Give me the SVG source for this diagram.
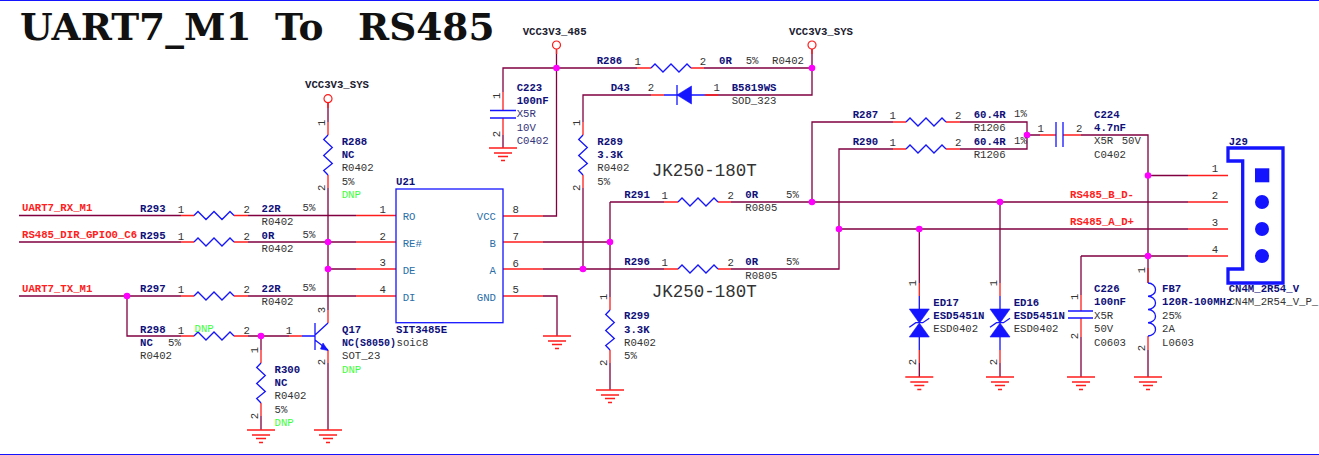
<svg xmlns="http://www.w3.org/2000/svg" xmlns:xlink="http://www.w3.org/1999/xlink" width="1319" height="455" viewBox="0 0 1319 455">
<style>
text{font-family:"Liberation Mono","DejaVu Sans Mono",monospace;font-size:10.67px}
.t{font-family:"DejaVu Serif","Liberation Serif",serif;font-size:37.5px;font-weight:bold;fill:#111111}
.w{fill:none;stroke:#800040;stroke-width:1.3}
.r{fill:none;stroke:#ff1c1c;stroke-width:1.3}
.b{fill:none;stroke:#1414ff;stroke-width:1.3}
.bf{fill:#1414ff;stroke:#1414ff;stroke-width:.6}
.d{fill:#ff00ff}
.n{font-weight:bold;fill:#10107a}
.f{fill:#333333}
.p{fill:#333333}
.g{fill:#40ff40}
.l{font-weight:bold;fill:#ff2020}
.v{font-weight:bold;fill:#202030}
.i{fill:#2a6ea8}
.c{fill:#33337a}
.m{text-anchor:middle}
.j{font-size:17.5px;fill:#333333}
.gn{fill:none;stroke:#ff1c1c;stroke-width:1.3}
</style>
<defs>
<path id="rh" class="b" d="M0 0L4-4L12 4L20-4L28 4L36-4L40 0"/>
<path id="rv" class="b" d="M0 0L-4.300 4.500L4.300 12.500L-4.300 20.500L4.300 28.500L-4.300 35.500L0 40"/>
<g id="gnd"><path class="gn" d="M-14 0H14M-9 5H9M-5 8.500H5M-2 12.500H2"/></g>
<g id="tvs"><path class="b" d="M0 0V13M0 41V54"/><path class="bf" d="M-10 13H10L0 27ZM-10 41H10L0 27Z"/><path class="b" d="M-10 31.300L-3.500 26.700H3.500L10 22.300"/></g>
<g id="vcc"><circle cx="0" cy="0" r="4" fill="none" stroke="#ff1c1c" stroke-width="1.200"/></g>
</defs>
<rect width="1319" height="455" fill="#ffffff"/>
<path d="M0 .5H1319M0 454.500H1319" stroke="#1414ff" stroke-width="1.200" fill="none"/>
<g id="title"><text class="t" x="20" y="39.500">UART7_M1 <tspan x="275">To</tspan> <tspan x="358">RS485</tspan></text></g>

<g id="connectors">
<path class="w" d="M19 215.500H181M248 215.500H356M19 242H181M248 242H356M328 269H356M19 296H181M248 296H356"/>
<path class="w" d="M127 296V336H181M248 336H289M261 336V350M261 416V430"/>
<path class="w" d="M328 103V122M328 188V310M328 363V430"/>
<path class="w" d="M556.500 49V216H543M556.500 68H503V92M503 135V148M556.500 68H637M704 68H812M812 49V95H705M651 95H583V122M583 188V269"/>
<path class="w" d="M543 242H610M543 269H664M731 269H839V149H893M610 202V297M610 363V390M610 202H664M731 202H1188M812 202V122H893M960 122H1027V149H960M1027 135H1040M1081 135H1148V283"/>
<path class="w" d="M839 229H1188M919.300 229V283M919.300 363V377M1000 202V283M1000 363V377"/>
<path class="w" d="M1148 175.500H1188M1081 256H1188M1081 256V295M1081 337V377M1148 350V377M543 296H557V336"/>
<path class="r" d="M181 215.500H194M234 215.500H248M356 215.500H396M181 242H194M234 242H248M356 242H396M356 269H396M181 296H194M234 296H248M356 296H396"/>
<path class="r" d="M181 336H194M234 336H248M289 336H302M261 350V363M261 403V416M328 103V108M328 122V135M328 175V188M328 310V323M328 350V363"/>
<path class="r" d="M556.500 49V54M503 92V110.500M503 118V135M503 216H543M503 242H543M503 269H543M503 296H543M637 68H651M691 68H704M812 49V54M705 95H718M651 95H664M583 122V135M583 175V188"/>
<path class="r" d="M664 202H678M718 202H731M664 269H678M718 269H731M610 297V310M610 350V363M893 122H906M946 122H960M893 149H906M946 149H960M1040 135H1056M1063 135H1081"/>
<path class="r" d="M1188 175.500H1228M1188 202H1228M1188 229H1228M1188 256H1228M919.300 283V296M919.300 350V363M1000 283V296M1000 350V363M1081 295V311M1081 318V337M1148 268V283M1148 336V350"/>
<g class="d"><circle cx="127" cy="296" r="3.300"/><circle cx="261" cy="336" r="3.300"/><circle cx="328" cy="242" r="3.300"/><circle cx="328" cy="269" r="3.300"/><circle cx="556.500" cy="68" r="3.300"/><circle cx="812" cy="68" r="3.300"/><circle cx="583" cy="269" r="3.300"/><circle cx="610" cy="242" r="3.300"/><circle cx="812" cy="202" r="3.300"/><circle cx="839" cy="229" r="3.300"/><circle cx="919.300" cy="229" r="3.300"/><circle cx="1000" cy="202" r="3.300"/><circle cx="1027" cy="135" r="3.300"/><circle cx="1148" cy="175.500" r="3.300"/><circle cx="1148" cy="256" r="3.300"/></g>
</g>

<g id="net-labels">
<text class="l" x="22" y="211">UART7_RX_M1</text>
<text class="l" x="22" y="238">RS485_DIR_GPIO0_C6</text>
<text class="l" x="22" y="292">UART7_TX_M1</text>
<text class="l" x="1070" y="198">RS485_B_D-</text>
<text class="l" x="1070" y="225">RS485_A_D+</text>
<text class="j" x="651.700" y="176">JK250-180T</text>
<text class="j" x="651.700" y="296.700">JK250-180T</text>
</g>

<g id="VCC1"><use xlink:href="#vcc" href="#vcc" x="328" y="98.700"/><text class="v" x="305" y="88.300">VCC3V3_SYS</text></g>
<g id="VCC2"><use xlink:href="#vcc" href="#vcc" x="556.500" y="45"/><text class="v" x="522.700" y="35">VCC3V3_485</text></g>
<g id="VCC3"><use xlink:href="#vcc" href="#vcc" x="812" y="45"/><text class="v" x="789" y="35">VCC3V3_SYS</text></g>

<g id="grounds">
<use href="#gnd" xlink:href="#gnd" x="261" y="430"/><use href="#gnd" xlink:href="#gnd" x="328" y="430"/><use href="#gnd" xlink:href="#gnd" x="503" y="148"/><use href="#gnd" xlink:href="#gnd" x="557" y="336"/><use href="#gnd" xlink:href="#gnd" x="610" y="390"/><use href="#gnd" xlink:href="#gnd" x="919.300" y="377"/><use href="#gnd" xlink:href="#gnd" x="1000" y="377"/><use href="#gnd" xlink:href="#gnd" x="1081" y="377"/><use href="#gnd" xlink:href="#gnd" x="1148" y="377"/>
</g>

<g id="R293"><use href="#rh" xlink:href="#rh" x="194" y="215.500"/><text class="n" x="140" y="212">R293</text><text class="p m" x="181" y="213">1</text><text class="p m" x="246.700" y="213">2</text><text class="n" x="261.500" y="212">22R</text><text class="f" x="261.500" y="225">R0402</text><text class="p" x="302.500" y="211">5%</text></g>
<g id="R295"><use href="#rh" xlink:href="#rh" x="194" y="242"/><text class="n" x="140" y="238.700">R295</text><text class="p m" x="181" y="239.500">1</text><text class="p m" x="246.700" y="239.500">2</text><text class="n" x="261.500" y="238.700">0R</text><text class="f" x="261.500" y="252">R0402</text><text class="p" x="302.500" y="237.700">5%</text></g>
<g id="R297"><use href="#rh" xlink:href="#rh" x="194" y="296"/><text class="n" x="140" y="292">R297</text><text class="p m" x="181" y="293">1</text><text class="p m" x="246.700" y="293">2</text><text class="n" x="261.500" y="292">22R</text><text class="f" x="261.500" y="305">R0402</text><text class="p" x="302.500" y="291">5%</text></g>
<g id="R298"><use href="#rh" xlink:href="#rh" x="194" y="336"/><text class="n" x="140" y="333">R298</text><text class="p m" x="181" y="333.500">1</text><text class="g" x="194.500" y="332">DNP</text><text class="p m" x="246.700" y="333.500">2</text><text class="n" x="140" y="346">NC</text><text class="p" x="168" y="346">5%</text><text class="f" x="140" y="359">R0402</text></g>
<g id="R300"><use href="#rv" xlink:href="#rv" x="261" y="363"/><text class="p m" transform="translate(258 350) rotate(-90)">1</text><text class="p m" transform="translate(258 416) rotate(-90)">2</text><text class="n" x="274.500" y="373">R300</text><text class="n" x="274.500" y="386">NC</text><text class="f" x="274.500" y="399">R0402</text><text class="p" x="274.500" y="412.700">5%</text><text class="g" x="274.500" y="426">DNP</text></g>
<g id="Q17"><path class="b" d="M302 336H315M315 323V350M315 335L328 323M315 340L328 350"/><path class="bf" d="M328 350.500L320.500 349L323 343Z"/><text class="p m" x="289" y="333.500">1</text><text class="p m" transform="translate(325 310) rotate(-90)">3</text><text class="p m" transform="translate(325 362) rotate(-90)">2</text><text class="n" x="342" y="333">Q17</text><text class="n" x="342" y="346" textLength="54" lengthAdjust="spacingAndGlyphs">NC(S8050)</text><text class="f" x="342" y="359">SOT_23</text><text class="g" x="342" y="372.700">DNP</text></g>
<g id="R288"><use href="#rv" xlink:href="#rv" x="328" y="135"/><text class="p m" transform="translate(325 122.700) rotate(-90)">1</text><text class="p m" transform="translate(325 187.700) rotate(-90)">2</text><text class="n" x="341.700" y="145">R288</text><text class="n" x="341.700" y="158">NC</text><text class="f" x="341.700" y="171">R0402</text><text class="p" x="341.700" y="185">5%</text><text class="g" x="341.700" y="198">DNP</text></g>
<g id="U21"><rect x="396" y="189" width="107" height="133.700" fill="none" stroke="#1414ff" stroke-width="1.300"/><text class="n" x="396" y="185">U21</text><text class="n" x="396" y="333">SIT3485E</text><text class="f" x="396.500" y="346">soic8</text>
<text class="i" x="402.700" y="220">RO</text><text class="i" x="402.700" y="246.700">RE#</text><text class="i" x="402.700" y="273.700">DE</text><text class="i" x="402.700" y="301">DI</text>
<g text-anchor="end"><text class="i" x="496" y="220">VCC</text><text class="i" x="496" y="247">B</text><text class="i" x="496" y="274">A</text><text class="i" x="496" y="301">GND</text></g>
<text class="p m" x="382.700" y="213">1</text><text class="p m" x="382.700" y="240">2</text><text class="p m" x="382.700" y="266.300">3</text><text class="p m" x="382.700" y="293">4</text><text class="p m" x="515.700" y="213">8</text><text class="p m" x="515.700" y="240">7</text><text class="p m" x="515.700" y="267">6</text><text class="p m" x="515.700" y="293">5</text></g>
<g id="C223"><path class="b" d="M490 110.500H516M490 118H516"/><text class="p m" transform="translate(500 95.700) rotate(-90)">1</text><text class="p m" transform="translate(500 134) rotate(-90)">2</text><text class="n" x="516.700" y="91">C223</text><text class="n" x="516.700" y="104">100nF</text><text class="c" x="516.700" y="117">X5R</text><text class="c" x="516.700" y="131">10V</text><text class="c" x="516.700" y="144">C0402</text></g>
<g id="R286"><use href="#rh" xlink:href="#rh" x="651" y="68"/><text class="n" x="596.700" y="63.700">R286</text><text class="p m" x="637.700" y="64.700">1</text><text class="p m" x="703" y="64.700">2</text><text class="n" x="719" y="64">0R</text><text class="p" x="745.700" y="64">5%</text><text class="f" x="772" y="64">R0402</text></g>
<g id="D43"><path class="b" d="M664 95H705M677 85V105"/><path class="bf" d="M677 95L691.500 86V104Z"/><text class="n" x="610.700" y="91">D43</text><text class="p m" x="651" y="91">2</text><text class="p m" x="716.700" y="91">1</text><text class="n" x="731.700" y="91">B5819WS</text><text class="f" x="731.700" y="104">SOD_323</text></g>
<g id="R289"><use href="#rv" xlink:href="#rv" x="583" y="135"/><text class="p m" transform="translate(580 122.700) rotate(-90)">1</text><text class="p m" transform="translate(580 187.700) rotate(-90)">2</text><text class="n" x="597.300" y="145">R289</text><text class="n" x="597.300" y="158">3.3K</text><text class="f" x="597.300" y="171">R0402</text><text class="p" x="597.300" y="185">5%</text></g>
<g id="R291"><use href="#rh" xlink:href="#rh" x="678" y="202"/><text class="n" x="624.300" y="198">R291</text><text class="p m" x="664.700" y="198.500">1</text><text class="p m" x="730.700" y="198.500">2</text><text class="n" x="745.300" y="198">0R</text><text class="p" x="786" y="198">5%</text><text class="f" x="745.300" y="210.700">R0805</text></g>
<g id="R296"><use href="#rh" xlink:href="#rh" x="678" y="269"/><text class="n" x="624.300" y="265">R296</text><text class="p m" x="664.700" y="266">1</text><text class="p m" x="730.700" y="266">2</text><text class="n" x="745.300" y="265">0R</text><text class="p" x="786" y="265">5%</text><text class="f" x="745.300" y="279">R0805</text></g>
<g id="R299"><use href="#rv" xlink:href="#rv" x="610" y="310"/><text class="p m" transform="translate(607 296.700) rotate(-90)">1</text><text class="p m" transform="translate(607 362.700) rotate(-90)">2</text><text class="n" x="624" y="319.300">R299</text><text class="n" x="624" y="332.700">3.3K</text><text class="f" x="624" y="346">R0402</text><text class="p" x="624" y="358.700">5%</text></g>
<g id="R287"><use href="#rh" xlink:href="#rh" x="906" y="122"/><text class="n" x="852.700" y="118">R287</text><text class="p m" x="892.700" y="118.500">1</text><text class="p m" x="958.300" y="118.500">2</text><text class="n" x="973.700" y="118">60.4R</text><text class="f" x="973.700" y="131">R1206</text><text class="p" x="1014" y="116.700">1%</text></g>
<g id="R290"><use href="#rh" xlink:href="#rh" x="906" y="149"/><text class="n" x="852.700" y="145">R290</text><text class="p m" x="892.700" y="145.500">1</text><text class="p m" x="958.300" y="145.500">2</text><text class="n" x="973.700" y="145">60.4R</text><text class="f" x="973.700" y="158">R1206</text><text class="p" x="1014" y="144">1%</text></g>
<g id="C224"><path class="b" d="M1056 122V147M1063 122V147"/><text class="p m" x="1040.700" y="132">1</text><text class="p m" x="1079.300" y="132">2</text><text class="n" x="1094" y="118">C224</text><text class="n" x="1094" y="130.700">4.7nF</text><text class="f" x="1094" y="144.300">X5R</text><text class="f" x="1121.700" y="144.300">50V</text><text class="f" x="1094" y="158">C0402</text></g>
<g id="J29"><path d="M1228 148H1283V283H1228V269H1242.700V161H1228Z" fill="none" stroke="#1414ff" stroke-width="3.300"/><rect x="1255" y="168.300" width="14.300" height="14" fill="#1414ff"/><circle cx="1262" cy="202" r="7" fill="#1414ff"/><circle cx="1262" cy="229" r="7" fill="#1414ff"/><circle cx="1262" cy="256" r="7" fill="#1414ff"/>
<text class="n" x="1228.700" y="145">J29</text><text class="p m" x="1215" y="172">1</text><text class="p m" x="1215" y="199.300">2</text><text class="p m" x="1215" y="226">3</text><text class="p m" x="1215" y="252.700">4</text><text class="n" x="1228.700" y="292">CN4M_2R54_V</text><text class="f" x="1228.700" y="305">CN4M_2R54_V_P_</text></g>
<g id="ED17"><use href="#tvs" xlink:href="#tvs" x="919.300" y="296"/><text class="p m" transform="translate(916 283) rotate(-90)">1</text><text class="p m" transform="translate(916 362) rotate(-90)">2</text><text class="n" x="933.300" y="305.700">ED17</text><text class="n" x="933.300" y="318.700">ESD5451N</text><text class="f" x="933.300" y="332">ESD0402</text></g>
<g id="ED16"><use href="#tvs" xlink:href="#tvs" x="1000" y="296"/><text class="p m" transform="translate(997 283) rotate(-90)">1</text><text class="p m" transform="translate(997 362) rotate(-90)">2</text><text class="n" x="1013.700" y="305.700">ED16</text><text class="n" x="1013.700" y="318.700">ESD5451N</text><text class="f" x="1013.700" y="332">ESD0402</text></g>
<g id="C226"><path class="b" d="M1068 311H1093M1068 318H1093"/><text class="p m" transform="translate(1078 296.700) rotate(-90)">1</text><text class="p m" transform="translate(1078 336) rotate(-90)">2</text><text class="n" x="1094" y="291.700">C226</text><text class="n" x="1094" y="305">100nF</text><text class="f" x="1094" y="318.700">X5R</text><text class="f" x="1094" y="332">50V</text><text class="f" x="1094" y="345.700">C0603</text></g>
<g id="FB7"><path class="b" d="M1148 283A7.500 6.600 0 0 1 1148 296.250A7.500 6.600 0 0 1 1148 309.500A7.500 6.600 0 0 1 1148 322.750A7.500 6.600 0 0 1 1148 336"/><text class="p m" transform="translate(1145 270) rotate(-90)">1</text><text class="p m" transform="translate(1145 348) rotate(-90)">2</text><text class="n" x="1162" y="291.700">FB7</text><text class="n" x="1162" y="305">120R-100MHz</text><text class="p" x="1162" y="319">25%</text><text class="f" x="1162" y="332">2A</text><text class="f" x="1162" y="346">L0603</text></g>
</svg>
